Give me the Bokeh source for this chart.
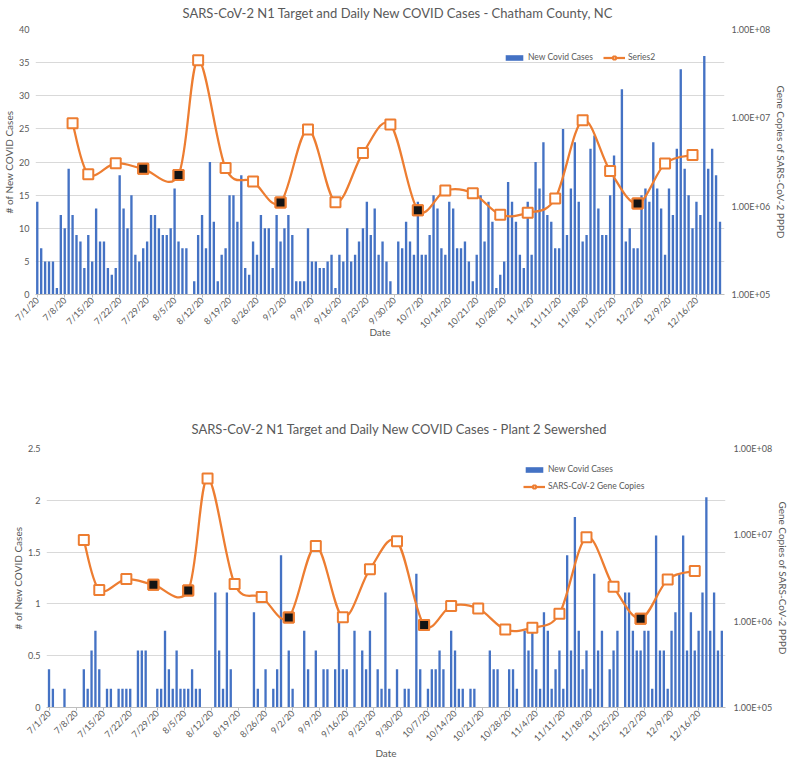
import math
import numpy as np
import pandas as pd
from bokeh.plotting import figure
from bokeh.models import (Range1d, LogScale, LogAxis, FixedTicker, Legend, LegendItem,
                          CustomJSTickFormatter, ColumnDataSource, Title)
from bokeh.embed import file_html
from bokeh.resources import INLINE

# ---------------- data ----------------
start_date = "7/1/20"

county_cases = [
    14, 7, 5, 5, 5, 1, 12,
    10, 19, 12, 9, 8, 4, 9,
    5, 13, 8, 8, 4, 3, 4,
    18, 13, 10, 15, 6, 5, 7,
    8, 12, 12, 10, 9, 9, 10,
    16, 8, 7, 7, 0, 2, 9,
    12, 7, 20, 11, 2, 6, 7,
    15, 15, 11, 18, 4, 3, 8,
    6, 12, 10, 10, 4, 12, 8,
    10, 12, 9, 2, 2, 2, 10,
    5, 5, 4, 4, 5, 6, 1,
    6, 5, 10, 5, 6, 8, 10,
    14, 9, 13, 6, 8, 5, 2,
    0, 8, 7, 11, 8, 6, 14,
    6, 6, 9, 15, 13, 7, 6,
    14, 13, 7, 7, 8, 5, 2,
    6, 15, 8, 14, 11, 1, 3,
    5, 17, 14, 11, 6, 4, 14,
    6, 20, 16, 23, 12, 11, 7,
    7, 25, 9, 16, 23, 14, 8,
    9, 22, 24, 13, 9, 9, 15,
    21, 0, 31, 8, 10, 7, 7,
    15, 16, 14, 23, 16, 13, 6,
    16, 12, 22, 34, 19, 15, 10,
    14, 12, 36, 19, 22, 18, 11,
]

plant_cases = [
    0.37, 0.18, 0, 0, 0.18, 0, 0,
    0, 0, 0.37, 0.18, 0.55, 0.74, 0.37,
    0, 0.18, 0.18, 0, 0.18, 0.18, 0.18,
    0.18, 0, 0.55, 0.55, 0.55, 0, 0,
    0.18, 0.18, 0.74, 0.37, 0.18, 0.55, 0.18,
    0.18, 0.18, 0.37, 0.18, 0.18, 0, 0,
    0, 1.11, 0.55, 0.18, 1.11, 0.37, 0,
    0, 0, 0, 0, 0.92, 0.18, 0,
    0.37, 0, 0.18, 0.37, 1.47, 0, 0.55,
    0.18, 0, 0, 0.74, 0.37, 0, 0.55,
    0, 0.37, 0.37, 0, 0.37, 0.92, 0.37,
    0.37, 0, 0.74, 0, 0.55, 0.37, 0.74,
    0, 0.37, 0.18, 1.11, 0.18, 0, 0.37,
    0, 0.18, 0.18, 0, 1.29, 0.37, 0,
    0.18, 0.37, 0.37, 0.55, 0.37, 0, 0.74,
    0.55, 0.18, 0.18, 0, 0.18, 0.18, 0,
    0, 0, 0.55, 0.37, 0.37, 0, 0,
    0.37, 0.37, 0.18, 0, 0.74, 0.55, 0.74,
    0.37, 0.18, 0.92, 0.74, 0.18, 0.37, 0.55,
    0.18, 1.47, 0.55, 1.84, 0.74, 0.37, 0.55,
    0.18, 1.29, 0.55, 0.74, 0, 0.37, 0.55,
    0.74, 0, 1.11, 1.11, 0.74, 0.55, 0.55,
    0.74, 0.74, 0.18, 1.66, 0.55, 0.55, 0.18,
    0.74, 0.92, 1.29, 1.66, 0.55, 0.92, 0.55,
    0.74, 1.11, 2.03, 0.74, 1.11, 0.55, 0.74,
]

tick_labels = ["7/1/20", "7/8/20", "7/15/20", "7/22/20", "7/29/20", "8/5/20", "8/12/20",
               "8/19/20", "8/26/20", "9/2/20", "9/9/20", "9/16/20", "9/23/20", "9/30/20",
               "10/7/20", "10/14/20", "10/21/20", "10/28/20", "11/4/20", "11/11/20",
               "11/18/20", "11/25/20", "12/2/20", "12/9/20", "12/16/20"]

sample_dates = ["7/10/20", "7/14/20", "7/21/20", "7/28/20", "8/6/20", "8/11/20", "8/18/20",
                "8/25/20", "9/1/20", "9/8/20", "9/15/20", "9/22/20", "9/29/20", "10/6/20",
                "10/13/20", "10/20/20", "10/27/20", "11/3/20", "11/10/20", "11/17/20",
                "11/24/20", "12/1/20", "12/8/20", "12/15/20"]
gene_copies = [8.7e6, 2.3e6, 3.07e6, 2.65e6, 2.26e6, 4.5e7, 2.7e6, 1.9e6, 1.1e6, 7.4e6,
               1.11e6, 4.0e6, 8.4e6, 9.0e5, 1.5e6, 1.4e6, 8.0e5, 8.4e5, 1.22e6, 9.4e6,
               2.5e6, 1.07e6, 3.04e6, 3.8e6]
highlighted_dates = ["7/28/20", "8/6/20", "9/1/20", "10/6/20", "12/1/20"]

# ---------------- helpers ----------------
BLUE = "#4472C4"
ORANGE = "#ED7D31"
GREY_TXT = "#595959"
FONT = "Lato"

t0 = pd.to_datetime(start_date, format="%m/%d/%y")


def day_index(d):
    return (pd.to_datetime(d, format="%m/%d/%y") - t0).days


tick_days = [day_index(d) for d in tick_labels]
sample_days = [day_index(d) for d in sample_dates]


def smooth_segments(xs, ys):
    """Excel-style smoothed connector: cubic Bezier segments (Catmull-Rom control points)."""
    xs = np.asarray(xs, float)
    ls = np.log10(np.asarray(ys, float))
    n = len(xs)
    seg = dict(x0=[], y0=[], x1=[], y1=[], cx0=[], cy0=[], cx1=[], cy1=[])
    for i in range(n - 1):
        ip = max(i - 1, 0)
        inx = min(i + 2, n - 1)
        c0x = xs[i] + (xs[i + 1] - xs[ip]) / 6.0
        c0y = ls[i] + (ls[i + 1] - ls[ip]) / 6.0
        c1x = xs[i + 1] - (xs[inx] - xs[i]) / 6.0
        c1y = ls[i + 1] - (ls[inx] - ls[i]) / 6.0
        seg["x0"].append(xs[i]); seg["y0"].append(10 ** ls[i])
        seg["x1"].append(xs[i + 1]); seg["y1"].append(10 ** ls[i + 1])
        seg["cx0"].append(c0x); seg["cy0"].append(10 ** c0y)
        seg["cx1"].append(c1x); seg["cy1"].append(10 ** c1y)
    return ColumnDataSource(seg)


def make_chart(title_text, cases, y_max, y_step, line_name, frame_w, frame_h, x_lo,
               borders, legend_loc, legend_orient, right_standoff, title_offset,
               spacer_size, date_standoff):
    b_left, b_right, b_top, b_bottom = borders
    p = figure(frame_width=frame_w, frame_height=frame_h,
               x_range=Range1d(x_lo, x_lo + 175.6), y_range=Range1d(0, y_max),
               output_backend="svg", toolbar_location=None,
               min_border_left=b_left, min_border_right=b_right,
               min_border_top=b_top, min_border_bottom=b_bottom)
    p.extra_y_ranges = {"gene": Range1d(1e5, 1e8)}
    p.extra_y_scales = {"gene": LogScale()}
    p.outline_line_color = None
    p.background_fill_color = "white"

    # small blank strip between the frame and the chart title
    p.add_layout(Title(text=" ", text_font_size=spacer_size, standoff=0), "above")

    p.title.text = title_text
    p.title.align = "left"
    p.title.offset = title_offset
    p.title.text_font = FONT
    p.title.text_font_size = "13px"
    p.title.text_font_style = "normal"
    p.title.text_color = GREY_TXT
    p.title.standoff = 0

    yt = list(np.arange(0, y_max + 1e-9, y_step))
    p.xgrid.visible = False
    p.ygrid.grid_line_color = "#D9D9D9"
    p.ygrid.grid_line_width = 1
    p.ygrid.ticker = FixedTicker(ticks=yt)

    xa = p.xaxis[0]
    xa.ticker = FixedTicker(ticks=tick_days)
    xa.major_label_overrides = {d: lab for d, lab in zip(tick_days, tick_labels)}
    xa.major_label_orientation = math.pi / 4
    xa.axis_line_color = "#BFBFBF"
    xa.major_tick_line_color = "#BFBFBF"
    xa.major_tick_out = 3
    xa.major_tick_in = 0
    xa.minor_tick_line_color = None
    xa.minor_tick_out = 0
    xa.major_label_text_font = FONT
    xa.major_label_text_font_size = "9px"
    xa.major_label_text_color = GREY_TXT
    xa.major_label_standoff = 1
    xa.axis_label = "Date"
    xa.axis_label_text_font = FONT
    xa.axis_label_text_font_size = "10px"
    xa.axis_label_text_font_style = "normal"
    xa.axis_label_text_color = GREY_TXT
    xa.axis_label_standoff = date_standoff

    ya = p.yaxis[0]
    ya.ticker = FixedTicker(ticks=yt)
    ya.formatter = CustomJSTickFormatter(code="return String(Math.round(tick*10)/10);")
    ya.axis_line_color = None
    ya.major_tick_line_color = None
    ya.major_tick_out = 0
    ya.minor_tick_out = 0
    ya.minor_tick_line_color = None
    ya.major_label_text_font = FONT
    ya.major_label_text_font_size = "9px"
    ya.major_label_text_color = GREY_TXT
    ya.major_label_standoff = 6
    ya.axis_label = "# of New COVID Cases"
    ya.axis_label_text_font = FONT
    ya.axis_label_text_font_size = "10px"
    ya.axis_label_text_font_style = "normal"
    ya.axis_label_text_color = GREY_TXT
    ya.axis_label_standoff = 1

    ra = LogAxis(y_range_name="gene", ticker=FixedTicker(ticks=[1e5, 1e6, 1e7, 1e8]),
                 formatter=CustomJSTickFormatter(code="""
                     const e = Math.round(Math.log10(tick));
                     return "1.00E+" + (e < 10 ? "0" : "") + e;"""))
    ra.axis_line_color = None
    ra.major_tick_line_color = None
    ra.major_tick_out = 0
    ra.minor_tick_out = 0
    ra.minor_tick_line_color = None
    ra.major_label_text_font = FONT
    ra.major_label_text_font_size = "9px"
    ra.major_label_text_color = GREY_TXT
    ra.major_label_standoff = right_standoff
    ra.axis_label = "Gene Copies of SARS-CoV-2 PPPD"
    ra.axis_label_text_font = FONT
    ra.axis_label_text_font_size = "10px"
    ra.axis_label_text_font_style = "normal"
    ra.axis_label_text_color = GREY_TXT
    ra.axis_label_standoff = 2
    p.add_layout(ra, "right")

    days = list(range(len(cases)))
    bars = p.vbar(x=days, top=cases, width=0.6, fill_color=BLUE, line_color=None)

    curve = p.bezier(source=smooth_segments(sample_days, gene_copies),
                     x0="x0", y0="y0", x1="x1", y1="y1", cx0="cx0", cy0="cy0",
                     cx1="cx1", cy1="cy1", line_color=ORANGE, line_width=2.25,
                     y_range_name="gene")
    pts = p.scatter(x=sample_days, y=gene_copies, marker="square", size=10,
                    line_color=ORANGE, line_width=2, fill_color="white", y_range_name="gene")
    hl_days = [day_index(d) for d in highlighted_dates]
    hl_vals = [gene_copies[sample_dates.index(d)] for d in highlighted_dates]
    p.scatter(x=hl_days, y=hl_vals, marker="square", size=10,
              line_color=ORANGE, line_width=2, fill_color="#141414", y_range_name="gene")

    legend = Legend(items=[LegendItem(label="New Covid Cases", renderers=[bars]),
                           LegendItem(label=line_name, renderers=[curve, pts])],
                    location=legend_loc, orientation=legend_orient,
                    background_fill_alpha=0, border_line_color=None,
                    label_text_font=FONT, label_text_font_size="8.5px",
                    label_text_color=GREY_TXT, glyph_width=22, glyph_height=7,
                    label_standoff=3, spacing=10, padding=0, margin=0,
                    label_height=10)
    p.add_layout(legend)
    return p


p1 = make_chart("SARS-CoV-2 N1 Target and Daily New COVID Cases - Chatham County, NC",
                county_cases, 40, 5, "Series2", 689, 265, -0.45,
                (33, 58, 29, 60), (468, 232), "horizontal", 7, 147, "7px", -11)
p2 = make_chart("SARS-CoV-2 N1 Target and Daily New COVID Cases - Plant 2 Sewershed",
                plant_cases, 2.5, 0.5, "SARS-CoV-2 Gene Copies", 679, 259, -0.65,
                (46, 60, 94, 0), (477, 216), "vertical", 8, 145, "9px", -3)
p2.legend[0].spacing = 7

open("out.html", "w").write(file_html([p1, p2], INLINE))
